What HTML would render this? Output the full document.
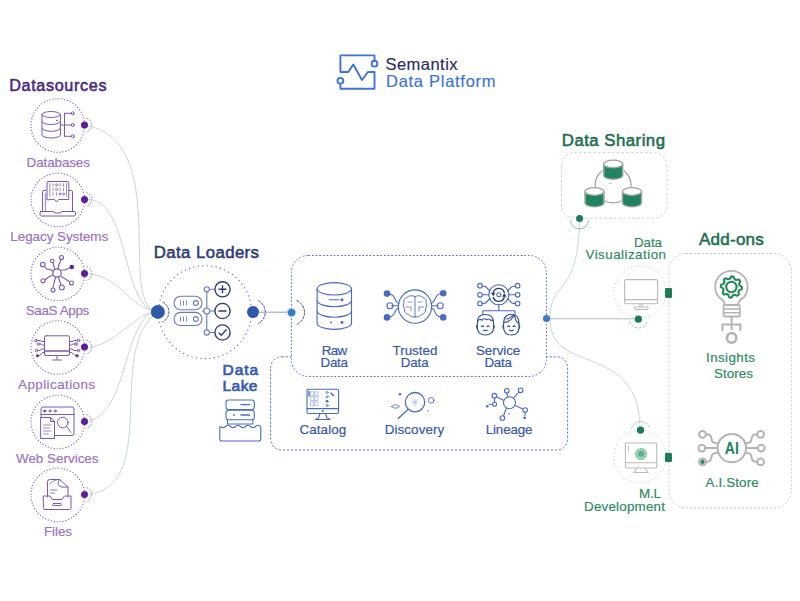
<!DOCTYPE html>
<html><head><meta charset="utf-8"><style>
html,body{margin:0;padding:0;background:#fff;width:800px;height:601px;overflow:hidden}
svg{display:block;font-family:"Liberation Sans",sans-serif}
</style></head><body>
<svg width="800" height="601" viewBox="0 0 800 601">
<g fill="none" stroke="#3f72d6" stroke-width="1.9" stroke-linejoin="round"><path d="M374.5 60 V55.4 H340.4 V72 H348.3 L353.3 64.5 L362 80 L367.9 72 H374.5 V88.7 H340.4 V84.5"/><circle cx="374.5" cy="63.7" r="2.9"/><circle cx="340.4" cy="80.8" r="2.9"/></g>
<text x="385.5" y="70.3" font-size="16.5" fill="#2b2d5e" font-weight="normal" stroke="#2b2d5e" stroke-width="0.18" textLength="72.0" lengthAdjust="spacing">Semantix</text>
<text x="386" y="86.8" font-size="16.5" fill="#3d74d2" font-weight="normal" stroke="#3d74d2" stroke-width="0.18" textLength="109.5" lengthAdjust="spacing">Data Platform</text>
<text x="9.2" y="91" font-size="16.2" fill="#4a2a7e" font-weight="normal" stroke="#4a2a7e" stroke-width="0.55" textLength="97.3" lengthAdjust="spacing">Datasources</text>
<g fill="none" stroke="#c2d0d6" stroke-width="0.9"><path d="M84.5 125 C174 139.3 115 305.9 158 312"/><path d="M84.5 199.5 C132.1 195.7 118.7 307.5 158 312"/><path d="M84 273.5 C120.5 274 126.9 307.2 158 312"/><path d="M83.5 347 C111 351.4 139.6 307.6 158 312"/><path d="M84.5 421.5 C129.6 419.2 122.4 312.6 158 312"/><path d="M84.2 494.5 C163.5 491.5 103.3 348.4 158 312"/></g>
<circle cx="57.8" cy="125.5" r="26.8" fill="none" stroke="#7a58a8" stroke-width="1.1" stroke-dasharray="1.1 1.9"/>
<path d="M86.3 118.1 A7.1 7.1 0 0 1 86.3 131.9" fill="none" stroke="#8890b0" stroke-width="0.9" stroke-dasharray="2 1"/>
<circle cx="84.5" cy="125" r="3.5" fill="#5a1fa0"/>
<text x="26.6" y="166.6" font-size="13.4" fill="#9a72c4" font-weight="normal" stroke="#9a72c4" stroke-width="0.18" textLength="63.3" lengthAdjust="spacing">Databases</text>
<circle cx="57.8" cy="200.0" r="26.8" fill="none" stroke="#7a58a8" stroke-width="1.1" stroke-dasharray="1.1 1.9"/>
<path d="M86.3 192.6 A7.1 7.1 0 0 1 86.3 206.4" fill="none" stroke="#8890b0" stroke-width="0.9" stroke-dasharray="2 1"/>
<circle cx="84.5" cy="199.5" r="3.5" fill="#5a1fa0"/>
<text x="10.3" y="241.1" font-size="13.4" fill="#9a72c4" font-weight="normal" stroke="#9a72c4" stroke-width="0.18" textLength="97.9" lengthAdjust="spacing">Legacy Systems</text>
<circle cx="57.8" cy="274.0" r="26.8" fill="none" stroke="#7a58a8" stroke-width="1.1" stroke-dasharray="1.1 1.9"/>
<path d="M86.3 266.6 A7.1 7.1 0 0 1 86.3 280.4" fill="none" stroke="#8890b0" stroke-width="0.9" stroke-dasharray="2 1"/>
<circle cx="84.5" cy="273.5" r="3.5" fill="#5a1fa0"/>
<text x="25.8" y="315.1" font-size="13.4" fill="#9a72c4" font-weight="normal" stroke="#9a72c4" stroke-width="0.18" textLength="63.4" lengthAdjust="spacing">SaaS Apps</text>
<circle cx="57.8" cy="347.5" r="26.8" fill="none" stroke="#7a58a8" stroke-width="1.1" stroke-dasharray="1.1 1.9"/>
<path d="M86.3 340.1 A7.1 7.1 0 0 1 86.3 353.9" fill="none" stroke="#8890b0" stroke-width="0.9" stroke-dasharray="2 1"/>
<circle cx="84.5" cy="347" r="3.5" fill="#5a1fa0"/>
<text x="18.1" y="388.6" font-size="13.4" fill="#9a72c4" font-weight="normal" stroke="#9a72c4" stroke-width="0.18" textLength="76.9" lengthAdjust="spacing">Applications</text>
<circle cx="57.8" cy="422.0" r="26.8" fill="none" stroke="#7a58a8" stroke-width="1.1" stroke-dasharray="1.1 1.9"/>
<path d="M86.3 414.6 A7.1 7.1 0 0 1 86.3 428.4" fill="none" stroke="#8890b0" stroke-width="0.9" stroke-dasharray="2 1"/>
<circle cx="84.5" cy="421.5" r="3.5" fill="#5a1fa0"/>
<text x="16" y="463.1" font-size="13.4" fill="#9a72c4" font-weight="normal" stroke="#9a72c4" stroke-width="0.18" textLength="82.5" lengthAdjust="spacing">Web Services</text>
<circle cx="57.8" cy="495.0" r="26.8" fill="none" stroke="#7a58a8" stroke-width="1.1" stroke-dasharray="1.1 1.9"/>
<path d="M86.3 487.6 A7.1 7.1 0 0 1 86.3 501.4" fill="none" stroke="#8890b0" stroke-width="0.9" stroke-dasharray="2 1"/>
<circle cx="84.5" cy="494.5" r="3.5" fill="#5a1fa0"/>
<text x="44" y="536.1" font-size="13.4" fill="#9a72c4" font-weight="normal" stroke="#9a72c4" stroke-width="0.18" textLength="28.0" lengthAdjust="spacing">Files</text>
<g fill="none" stroke="#7b58b0" stroke-width="1" stroke-linecap="round" stroke-linejoin="round"><ellipse cx="51.2" cy="114.5" rx="9.2" ry="3"/><path d="M42 114.5 V135 A9.2 3 0 0 0 60.4 135 V114.5"/><path d="M42 121.5 A9.2 3 0 0 0 60.4 121.5"/><path d="M42 128.3 A9.2 3 0 0 0 60.4 128.3"/><circle cx="57" cy="120.5" r="0.5"/><path d="M60.4 125 H64.5 M64.5 113.3 V136.3 M64.5 113.3 H71.3 M64.5 125 H71.3 M64.5 136.3 H71.3"/><circle cx="72.8" cy="113.3" r="1.5"/><circle cx="72.8" cy="125" r="1.5"/><circle cx="72.8" cy="136.3" r="1.5"/><path d="M42.5 211 V191.5 Q42.5 190.5 43.5 190.5 H46 M69 190.5 H71.5 Q72.5 190.5 72.5 191.5 V211"/><path d="M45.3 211 V193.5" stroke-width="0.8"/><path d="M40.5 211.5 H53 L55 213 H60 L62 211.5 H74.5 Q75.5 211.5 75.5 213 V214.5 Q75.5 216 74 216 H41.5 Q40 216 40 214.5 V213 Q40 211.5 41.5 211.5 Z"/><path d="M47 199.5 V182.5 Q47 181.5 48 181.5 H67.8 Q68.8 181.5 68.8 182.5 V199.5 H58.5 L56.5 202 L54.5 199.5 Z"/><g stroke-width="0.7"><path d="M49.8 183.5 V196 M66.5 183.5 V196"/><path d="M53 183.7 V186.3"/><ellipse cx="56.5" cy="185" rx="0.9" ry="1.2"/><path d="M60 183.7 V186.3"/><path d="M63.5 183.7 V186.3"/><path d="M53 188.2 V190.8"/><ellipse cx="56.5" cy="189.5" rx="0.9" ry="1.2"/><path d="M60 188.2 V190.8"/><path d="M63.5 188.2 V190.8"/><path d="M53 192.7 V195.3"/><path d="M56.5 192.7 V195.3"/><ellipse cx="60" cy="194" rx="0.9" ry="1.2"/><ellipse cx="63.5" cy="194" rx="0.9" ry="1.2"/></g><circle cx="57" cy="273" r="4.2" stroke-width="1.2"/><path d="M52.5 271.0 L49.5 269.2 L47.0 269.2 L44.5 266.5 M54.5 269.2 L54.0 266.5 L53.0 263.0 M58.0 268.5 L59.0 264.5 L61.0 260.0 M61.5 270.0 L65.5 269.8 L69.5 268.0 M61.0 276.5 L65.5 279.0 L69.0 281.5 M58.5 277.5 L60.0 282.0 L61.0 285.0 M55.5 277.5 L54.0 283.0 L53.0 287.5 M52.5 275.0 L48.0 277.5 L45.0 279.8" stroke-width="1.1"/><circle cx="42.8" cy="264.5" r="2.3" stroke-width="1.1"/><circle cx="52.3" cy="261" r="1.8" stroke-width="1.1"/><circle cx="61.5" cy="257.5" r="2" stroke-width="1.1"/><circle cx="71.8" cy="267" r="2.2" stroke-width="1.1" fill="#5a1fa0" stroke="none"/><circle cx="71.5" cy="283" r="2" stroke-width="1.1"/><circle cx="61.8" cy="287.5" r="2.5" stroke-width="1.1"/><circle cx="53" cy="290" r="2" stroke-width="1.1"/><circle cx="43" cy="280.8" r="2" stroke-width="1.1"/><rect x="44.5" y="335.8" width="25" height="19.7" rx="1.5"/><path d="M44.5 351 H69.5" stroke-width="1.3"/><path d="M57 355.5 V359.5 M52.5 360 H61.5"/><path d="M44.5 341.5 H42 L40 340.5 H37.3 M44.5 345 H42.5 L41 344 H39.8 M44.5 349 H42 L40 350.5 H37.8 M44.5 352.5 H42.5 L39.5 355.8"/><path d="M69.5 341.5 H72 L74 340.5 H77.2 M69.5 345 H71.5 L73 344 H74.7 M69.5 349 H72 L74 350.5 H77.2 M69.5 352.5 H71.5 L75.5 355.8"/><circle cx="36" cy="340.5" r="1.3"/><circle cx="38.5" cy="344" r="1.3"/><circle cx="36.5" cy="350.5" r="1.3"/><circle cx="37.5" cy="355.8" r="1.3" fill="#5a1fa0"/><circle cx="78.5" cy="340.5" r="1.3"/><circle cx="76" cy="344" r="1.3"/><circle cx="78.5" cy="350.5" r="1.3"/><circle cx="77" cy="355.8" r="1.3" fill="#5a1fa0"/><path d="M41 417 V409 Q41 407 43 407 H72 Q74 407 74 409 V433.5 Q74 435.5 72 435.5 H54.5"/><path d="M41 414.5 H74"/><circle cx="44.8" cy="411" r="1.1" fill="#5a1fa0"/><circle cx="50" cy="411" r="1.1"/><circle cx="55.2" cy="411" r="1.1"/><path d="M41 417.5 H50.5 L54.5 421.5 V438.5 H41 Z"/><path d="M50.5 417.5 V421.5 H54.5"/><path d="M43.5 425 H51 M43.5 428 H50 M43.5 431 H51 M43.5 434 H48" stroke-width="0.7"/><circle cx="62.8" cy="422.5" r="5.3"/><path d="M66.5 426.3 L71 432.5"/><path d="M47.5 497 V482 Q47.5 479.5 50 479.5 H59.5 L68 487 V497"/><path d="M59.5 479.5 Q57 484 59.5 486 Q62 488 68 487"/><path d="M50 484 Q54 479 60 479.5" stroke-width="0.8"/><path d="M50.5 490 H57 M50.5 493 H54.5" stroke-width="0.8"/><path d="M43.5 496 H50 L52.5 499.5 H62 L64.5 496 H71 V508 Q71 509.5 69.5 509.5 H45 Q43.5 509.5 43.5 508 Z"/><rect x="52.5" y="503.5" width="9" height="2" rx="1"/></g>
<text x="153.8" y="258.4" font-size="16.8" fill="#2d3d74" font-weight="normal" stroke="#2d3d74" stroke-width="0.55" textLength="105.2" lengthAdjust="spacing">Data Loaders</text>
<circle cx="205" cy="312.2" r="46.5" fill="none" stroke="#6268a8" stroke-width="1.2" stroke-dasharray="1.1 3.4"/>
<path d="M162.5 302 A11 11 0 0 1 162.5 322" fill="none" stroke="#4a5488" stroke-width="1" stroke-dasharray="3 0.8"/>
<path d="M258 300.6 A12.7 12.7 0 0 1 258 323.6" fill="none" stroke="#4a5488" stroke-width="1" stroke-dasharray="3 0.8"/>
<circle cx="157.9" cy="311.9" r="7" fill="#2f58aa"/>
<circle cx="253" cy="312" r="6" fill="#2f58aa"/>
<path d="M259 312.2 H291" stroke="#6f86c8" stroke-width="0.8"/>
<g fill="none" stroke="#6a78c0" stroke-width="1.1"><rect x="174" y="296.3" width="28" height="13.5" rx="6.7"/><rect x="174" y="312.4" width="28" height="13.1" rx="6.5"/><circle cx="195.8" cy="303" r="2.4"/><circle cx="195.8" cy="319" r="2.4"/><path d="M180.5 300.5 V305.5 M183.5 300.5 V305.5 M186.5 300.5 V305.5 M180.5 316.5 V321.5 M183.5 316.5 V321.5 M186.5 316.5 V321.5" stroke-width="0.9"/><path d="M202 311 H204 M206.8 292 V308 M206.8 314 V330 M209.4 289.3 H214.6 M209.8 311 H214.6 M209.4 332.5 H214.6"/><circle cx="206.8" cy="289.3" r="2.6"/><circle cx="206.8" cy="311" r="3"/><circle cx="206.8" cy="332.5" r="2.6"/></g><g fill="none" stroke="#2d3d74" stroke-width="1.4"><circle cx="222.5" cy="289.3" r="7.6"/><circle cx="222.5" cy="311" r="7.6"/><circle cx="222.5" cy="332.5" r="7.6"/><path d="M218.5 289.3 H226.5 M222.5 285.3 V293.3 M218.5 311 H226.5 M218.8 332.7 L221.3 335.2 L226.5 329.5"/></g>
<rect x="270.6" y="356.8" width="297" height="93.2" rx="11" fill="none" stroke="#5878bc" stroke-width="1" stroke-dasharray="2.2 1.8"/>
<rect x="291.4" y="255.5" width="255" height="121" rx="17" fill="#fff" stroke="#5878bc" stroke-width="1" stroke-dasharray="1.8 1.8"/>
<path d="M296.5 300.5 A13 13 0 0 1 296.5 324.5" fill="none" stroke="#4a5488" stroke-width="1" stroke-dasharray="3 0.8"/>
<circle cx="291.5" cy="312.4" r="4.6" fill="#a8c4ec"/><circle cx="291.5" cy="312.4" r="3.5" fill="#2f7bd0"/>
<text x="222.6" y="374.6" font-size="15.5" fill="#3458b0" font-weight="normal" stroke="#3458b0" stroke-width="0.7" textLength="35.6" lengthAdjust="spacing">Data</text>
<text x="222.6" y="390.5" font-size="15.5" fill="#3458b0" font-weight="normal" stroke="#3458b0" stroke-width="0.7" textLength="34.8" lengthAdjust="spacing">Lake</text>
<text x="321.8" y="354.7" font-size="13.4" fill="#3558a8" font-weight="normal" stroke="#3558a8" stroke-width="0.18" textLength="25.4" lengthAdjust="spacing">Raw</text>
<text x="320.6" y="367.3" font-size="13.4" fill="#3558a8" font-weight="normal" stroke="#3558a8" stroke-width="0.18" textLength="27.4" lengthAdjust="spacing">Data</text>
<text x="392.5" y="354.6" font-size="13.4" fill="#3558a8" font-weight="normal" stroke="#3558a8" stroke-width="0.18" textLength="44.9" lengthAdjust="spacing">Trusted</text>
<text x="400.8" y="367.3" font-size="13.4" fill="#3558a8" font-weight="normal" stroke="#3558a8" stroke-width="0.18" textLength="27.8" lengthAdjust="spacing">Data</text>
<text x="476" y="354.7" font-size="13.4" fill="#3558a8" font-weight="normal" stroke="#3558a8" stroke-width="0.18" textLength="44.3" lengthAdjust="spacing">Service</text>
<text x="484.5" y="367.3" font-size="13.4" fill="#3558a8" font-weight="normal" stroke="#3558a8" stroke-width="0.18" textLength="27.4" lengthAdjust="spacing">Data</text>
<text x="299.5" y="433.5" font-size="13.4" fill="#3558a8" font-weight="normal" stroke="#3558a8" stroke-width="0.18" textLength="46.7" lengthAdjust="spacing">Catalog</text>
<text x="384.7" y="434" font-size="13.4" fill="#3558a8" font-weight="normal" stroke="#3558a8" stroke-width="0.18" textLength="59.5" lengthAdjust="spacing">Discovery</text>
<text x="485.7" y="434" font-size="13.4" fill="#3558a8" font-weight="normal" stroke="#3558a8" stroke-width="0.18" textLength="46.8" lengthAdjust="spacing">Lineage</text>
<g fill="none" stroke="#4a6cc0" stroke-width="1.1" stroke-linecap="round" stroke-linejoin="round"><ellipse cx="334.3" cy="288.8" rx="17.2" ry="6.2"/><path d="M317.1 288.8 V323.2 A17.2 6.2 0 0 0 351.5 323.2 V288.8"/><path d="M317.1 300.5 A17.2 6.2 0 0 0 351.5 300.5 M317.1 311 A17.2 6.2 0 0 0 351.5 311"/><path d="M329.3 299.7 H339"/><circle cx="342" cy="299.7" r="1" fill="#4a6cc0"/><circle cx="342" cy="322.2" r="1" fill="#4a6cc0"/><circle cx="331" cy="322.4" r="0.4" fill="#4a6cc0"/><circle cx="415" cy="306.6" r="16.7"/><path d="M391.5 305.8 H398.6 M438 305.8 H431.4"/><path d="M387 293.6 Q392 293.6 394 297 L396 301 Q397 303 399 303.5 M387 317.4 Q392 317.4 394 314 L396 310 Q397 308.5 399 308"/><path d="M443.2 293.3 Q438 293.3 436 297 L434 301 Q433 303 431 303.5 M443.2 317.4 Q438 317.4 436 314 L434 310 Q433 308.5 431 308"/><circle cx="390" cy="305.8" r="3"/><circle cx="440.2" cy="305.8" r="3"/><path d="M415 296.5 V317 M415 296.5 Q410 294.5 407 297.5 Q403 298.5 404 302.5 Q402 306 404.5 309 Q404 313.5 408.5 314.5 Q411 318 415 317 M415 296.5 Q420 294.5 423 297.5 Q427 298.5 426 302.5 Q428 306 425.5 309 Q426 313.5 421.5 314.5 Q419 318 415 317" stroke-width="0.9"/><path d="M408 302 H412 M406 307 H411 V311 M418 302 H422 M419 307 H424 M419 307 V311" stroke-width="0.7"/></g><g fill="#4a6cc0"><circle cx="387" cy="293.6" r="3.3"/><circle cx="387" cy="317.4" r="3.3"/><circle cx="443.2" cy="293.3" r="3.3"/><circle cx="443.2" cy="317.4" r="3.3"/></g><g fill="none" stroke="#4a6cc0" stroke-width="1.1" stroke-linecap="round" stroke-linejoin="round"><circle cx="498.8" cy="294.8" r="10"/><circle cx="498.8" cy="294.8" r="2"/><path d="M504.3 292.5 A5.8 5.8 0 0 0 493.2 292.5 M493.2 297.3 A5.8 5.8 0 0 0 504.3 297.3" stroke="#2d3d74" stroke-width="1.3"/><path d="M490.9 292.8 H495.5 L493.2 296.3 Z M502 296.8 H506.6 L504.3 293.3 Z" fill="#2d3d74" stroke="none"/><path d="M482.3 294.8 H489.2 M508.4 294.8 H515.3"/><path d="M482 286 Q486 286 487 288 L490 291 M482 303.5 Q486 303.5 487 301.5 L490 298.5 M515.5 286 Q511.5 286 510.5 288 L507.5 291 M515.5 303.5 Q511.5 303.5 510.5 301.5 L507.5 298.5"/><circle cx="480" cy="285.7" r="2.3"/><circle cx="480" cy="294.8" r="2.3"/><circle cx="480" cy="303.5" r="2.3"/><circle cx="517.6" cy="285.7" r="2.3"/><circle cx="517.6" cy="294.8" r="2.3"/><circle cx="517.6" cy="303.5" r="2.3"/><path d="M498.8 304.4 V310.8 M482.8 314.5 V310.8 H515 V314.5"/><g stroke="#34508f" stroke-width="1.1"><path d="M477.3 323 Q477 314.5 485.3 314.5 Q493.6 314.5 493.6 323 V327 Q493.6 335 485.3 335 Q477.3 335 477.3 327 Z"/><path d="M477.5 321.5 Q479.5 318 482 320.3 Q484 317.5 486.8 319.8 Q489.3 318 490.8 320.5 Q492.3 319.3 493.5 321.5"/><path d="M477 325 Q475.8 326.5 477 328.5 M493.8 325 Q495 326.5 493.8 328.5"/><path d="M481.5 326.6 Q482.6 325.2 483.7 326.6 M487 326.6 Q488.1 325.2 489.2 326.6 M483.3 330 Q485.3 331.6 487.3 330"/><path d="M503.6 324 Q503.6 314.3 511.3 314.3 Q519 314.3 519 324 V327 Q519 335 511.3 335 Q503.6 335 503.6 327 Z"/><path d="M504 322.5 Q510.5 322 514.5 315.3 Q515.5 321.5 518.8 323.5 M506.5 319 Q510.5 318.5 513 315.2"/><path d="M503.4 325 Q502.3 326.5 503.4 328.5 M519.2 325 Q520.3 326.5 519.2 328.5"/><path d="M507.6 326.6 Q508.7 325.2 509.8 326.6 M513 326.6 Q514.1 325.2 515.2 326.6 M509.4 330 Q511.3 331.6 513.3 330"/></g><rect x="307" y="389.2" width="31.6" height="24.3" rx="1.5"/><path d="M307 408.6 H338.6"/><path d="M320 413.5 L318.5 418 Q316 418.5 315.5 419.5 H330 Q329.5 418.5 327 418 L325.5 413.5"/><path d="M309 391.5 V396" stroke-width="1.4"/><path d="M311 391.8 H314 V395.5 H311 Z M315 391.8 H318 V395.5 H315 Z M311 396.8 H314 V400.5 H311 Z M315 396.8 H318 V400.5 H315 Z M311 401.8 H314 V405.5 H311 Z M315 401.8 H318 V405.5 H315 Z" stroke-width="0.6" stroke="#8aa0d8"/><g stroke-width="0.7"><circle cx="327" cy="392.5" r="1.1"/><circle cx="327" cy="396.8" r="1.1"/><circle cx="327" cy="401.2" r="1.1" fill="#4a6cc0"/><circle cx="327" cy="405.5" r="1.1"/></g><path d="M331 393 L333.5 395.5" stroke-width="1.4"/><circle cx="322.8" cy="411" r="0.5"/><circle cx="415" cy="402.2" r="9.7" stroke-width="1.3"/><path d="M408 409.5 L398.2 418.4" stroke-width="1.3"/><circle cx="431.2" cy="400.3" r="2.8" stroke-width="0.9"/><path d="M391.5 406.5 Q395.5 403 399.5 406.5 Q395.5 410 391.5 406.5 Z" stroke-width="0.9"/><path d="M415 398.5 V406 M411.5 402.2 H418.5 M412.5 399.5 L417.5 405 M417.5 399.5 L412.5 405" stroke-width="0.6" stroke="#9ab0e0"/></g><g fill="#4a6cc0"><circle cx="400" cy="394.3" r="1.3"/><circle cx="428" cy="410.8" r="0.8"/><circle cx="487.3" cy="406.3" r="1.3"/><circle cx="524.6" cy="417.8" r="1.4"/><circle cx="509" cy="413.8" r="0.8"/></g><g fill="none" stroke="#4a6cc0" stroke-width="1.1"><circle cx="509.5" cy="402.7" r="6"/><path d="M507.5 397 L507 393.1 M513.5 398.2 L519 392 M503.8 400.6 L496.5 396.8 M515 405.5 L523 409 M506.5 408 L503.5 415.8 M494.5 398 V402 M492.3 404.3 H488.5 M525 412.3 V416"/><circle cx="506.8" cy="390.8" r="2.3"/><circle cx="520.6" cy="390.3" r="2.3"/><circle cx="494.3" cy="395.7" r="2.3"/><circle cx="494.6" cy="404.3" r="2"/><circle cx="525.1" cy="410" r="2.3"/><circle cx="502.4" cy="418" r="2.3"/></g><g fill="none" stroke="#4a6cc0" stroke-width="1.1"><rect x="226" y="400" width="28.3" height="9.5" rx="2.5"/><rect x="226" y="410.3" width="28.3" height="9.5" rx="2.5"/><path d="M227.5 419.8 V424 H252.8 V419.8"/><path d="M240.5 404.7 H250 M240.5 415 H250" stroke-width="1.3"/><circle cx="234" cy="415" r="0.4"/><path d="M220.5 426.5 Q223 429 225.5 426.5 Q228 424 230.5 426.5 Q233 429 235.5 426.5 Q238 424 240.5 426.5 Q243 429 245.5 426.5 Q248 424 250.5 426.5 Q253 429 255.5 426.5 Q258 424 260.5 426.5"/><path d="M219.8 426.5 V439 Q219.8 441 221.8 441 H258.8 Q260.8 441 260.8 439 V426.5"/></g>
<text x="561.8" y="146" font-size="16.8" fill="#1e6e4f" font-weight="normal" stroke="#1e6e4f" stroke-width="0.55" textLength="103.2" lengthAdjust="spacing">Data Sharing</text>
<text x="699" y="244.5" font-size="17" fill="#1e6e4f" font-weight="normal" stroke="#1e6e4f" stroke-width="0.55" textLength="64.8" lengthAdjust="spacing">Add-ons</text>
<g fill="none" stroke="#c2d2d6" stroke-width="0.9"><path d="M550 319 C550 278.3 579.4 297.5 579.4 218.2"/><path d="M550 319 C550 376.6 640 340.3 640 430"/></g>
<path d="M546.5 318.8 H638.4" stroke="#a6b6cc" stroke-width="0.9"/>
<circle cx="546.5" cy="318.5" r="3.6" fill="#3a7bd0"/>
<rect x="561.5" y="152.7" width="105.5" height="65.5" rx="13" fill="none" stroke="#c3d3cf" stroke-width="1" stroke-dasharray="2.5 2.2"/>
<path d="M570.5 220 A9 9 0 0 0 588.5 220" fill="none" stroke="#7fb8a0" stroke-width="0.9"/>
<circle cx="579.6" cy="218.4" r="3.5" fill="#1f7a56"/>
<g stroke="#a0a0a0" stroke-width="1.3" fill="none"><circle cx="613.1" cy="185" r="17.9"/></g><circle cx="610" cy="183.5" r="0.6" fill="#20845e"/><rect x="602.6" y="159.2" width="21.2" height="21.1" fill="#fff" stroke="none"/><path d="M603.6 164 V175.5 A9.6 3.8 0 0 0 622.8000000000001 175.5 V164" fill="#fff" stroke="#a0a0a0" stroke-width="1.3"/><path d="M604.3000000000001 165.5 A9.6 3.8 0 0 0 622.1 165.5 V175.5 A8.9 3.3 0 0 1 604.3000000000001 175.5 Z" fill="#20845e"/><ellipse cx="613.2" cy="164" rx="9.6" ry="3.8" fill="#fff" stroke="#a0a0a0" stroke-width="1.3"/><rect x="583.9" y="186.7" width="21.2" height="21.1" fill="#fff" stroke="none"/><path d="M584.9 191.5 V203.0 A9.6 3.8 0 0 0 604.1 203.0 V191.5" fill="#fff" stroke="#a0a0a0" stroke-width="1.3"/><path d="M585.6 193.0 A9.6 3.8 0 0 0 603.4 193.0 V203.0 A8.9 3.3 0 0 1 585.6 203.0 Z" fill="#20845e"/><ellipse cx="594.5" cy="191.5" rx="9.6" ry="3.8" fill="#fff" stroke="#a0a0a0" stroke-width="1.3"/><rect x="621.4" y="186.7" width="21.2" height="21.1" fill="#fff" stroke="none"/><path d="M622.4 191.5 V203.0 A9.6 3.8 0 0 0 641.6 203.0 V191.5" fill="#fff" stroke="#a0a0a0" stroke-width="1.3"/><path d="M623.1 193.0 A9.6 3.8 0 0 0 640.9 193.0 V203.0 A8.9 3.3 0 0 1 623.1 203.0 Z" fill="#20845e"/><ellipse cx="632" cy="191.5" rx="9.6" ry="3.8" fill="#fff" stroke="#a0a0a0" stroke-width="1.3"/>
<text x="634" y="247" font-size="13.4" fill="#2f8a63" font-weight="normal" stroke="#2f8a63" stroke-width="0.18" textLength="28.0" lengthAdjust="spacing">Data</text>
<text x="585.5" y="259" font-size="13.4" fill="#2f8a63" font-weight="normal" stroke="#2f8a63" stroke-width="0.18" textLength="80.5" lengthAdjust="spacing">Visualization</text>
<circle cx="640" cy="292" r="26.2" fill="none" stroke="#b8c4bc" stroke-width="1" stroke-dasharray="1.1 2.8"/>
<path d="M629.5 321 A9.3 9.3 0 0 0 647.5 321" fill="none" stroke="#8cc8b0" stroke-width="0.9" stroke-dasharray="3 1"/>
<circle cx="638.4" cy="319.2" r="3.6" fill="#1f7a56"/>
<rect x="665" y="288" width="7" height="9.8" rx="1.5" fill="#1f7a56"/>
<g fill="none" stroke="#bababa" stroke-width="1.1"><rect x="624.6" y="279.6" width="33" height="24.1" rx="1.5"/><path d="M624.6 299.6 H657.6 M640 303.7 V307 M642.3 303.7 V307"/><rect x="634.7" y="307" width="13.3" height="2.5" rx="0.8"/></g>
<rect x="669" y="253.5" width="122.3" height="254.3" rx="17" fill="none" stroke="#c4c8c6" stroke-width="1" stroke-dasharray="2 2"/>
<g fill="none" stroke="#b4b4b4" stroke-width="2"><path d="M725 305 Q724.5 300.5 719 297.4 A16.2 16.2 0 1 1 743.8 297.4 Q738.3 300.5 737.8 305" stroke-width="1.8"/><rect x="723.5" y="305" width="16.3" height="11.5" rx="1.2" stroke-width="1.8"/><path d="M723.5 309 H739.8 M723.5 312.8 H739.8" stroke-width="1.6"/><path d="M731.6 317 V330 M722.5 331 V324.4 H740.4 V331"/><circle cx="731.6" cy="337.9" r="4.7" stroke-width="2.7"/></g><path d="M742.0 287.0 L741.8 289.1 L739.2 290.2 L738.4 291.7 L738.9 294.5 L737.3 295.8 L734.6 294.8 L733.0 295.2 L731.4 297.6 L729.3 297.4 L728.2 294.8 L726.7 294.0 L723.9 294.5 L722.6 292.9 L723.6 290.2 L723.2 288.6 L720.8 287.0 L721.0 284.9 L723.6 283.8 L724.4 282.3 L723.9 279.5 L725.5 278.2 L728.2 279.2 L729.8 278.8 L731.4 276.4 L733.5 276.6 L734.6 279.2 L736.1 280.0 L738.9 279.5 L740.2 281.1 L739.2 283.8 L739.6 285.4Z" fill="none" stroke="#238a5c" stroke-width="2.1" stroke-linejoin="round"/><circle cx="731.4" cy="287" r="5.2" fill="none" stroke="#238a5c" stroke-width="2.1"/>
<text x="706" y="362" font-size="13.4" fill="#2f8a63" font-weight="normal" stroke="#2f8a63" stroke-width="0.18" textLength="49.0" lengthAdjust="spacing">Insights</text>
<text x="714" y="377.6" font-size="13.4" fill="#2f8a63" font-weight="normal" stroke="#2f8a63" stroke-width="0.18" textLength="39.0" lengthAdjust="spacing">Stores</text>
<circle cx="640" cy="456.6" r="26.3" fill="none" stroke="#b8c4bc" stroke-width="1" stroke-dasharray="1.1 2.8"/>
<path d="M631.5 428.5 A9.3 9.3 0 0 1 649.5 428.5" fill="none" stroke="#8cc8b0" stroke-width="0.9" stroke-dasharray="3 1"/>
<circle cx="640.5" cy="430.1" r="3.7" fill="#1f7a56"/>
<g fill="none" stroke="#bababa" stroke-width="1.1"><rect x="625.4" y="443" width="31.4" height="25" rx="1.5"/><path d="M625.4 462.7 H656.8 M637 468 L634 472.5 H648 L645 468"/><path d="M628.5 446 V452" stroke-width="0.8"/></g>
<circle cx="641.1" cy="454" r="5.5" fill="#9fd3bb" stroke="#2f9a6e" stroke-width="1" stroke-dasharray="1 1"/>
<circle cx="641.1" cy="454" r="3" fill="#2f9a6e" opacity="0.6"/>
<text x="639" y="497.6" font-size="13.4" fill="#2f8a63" font-weight="normal" stroke="#2f8a63" stroke-width="0.18" textLength="22.0" lengthAdjust="spacing">M.L</text>
<text x="584" y="510.6" font-size="13.4" fill="#2f8a63" font-weight="normal" stroke="#2f8a63" stroke-width="0.18" textLength="81.0" lengthAdjust="spacing">Development</text>
<g fill="none" stroke="#b4b4b4" stroke-width="2"><circle cx="731.8" cy="448.1" r="14.2"/><path d="M705.5 448.1 H717.6 M758.2 448.1 H746"/><path d="M706 434.4 Q710 434 711 437 L712 441 Q713 443 718.5 443.5 M706 461.9 Q710 462 711 459 L712 455 Q713 453 718.5 452.5"/><path d="M757.2 434.4 Q753 434 752 437 L751 441 Q750 443 745 443.5 M757.2 461.9 Q753 462 752 459 L751 455 Q750 453 745 452.5"/><circle cx="702.5" cy="434.4" r="3.4"/><circle cx="701.9" cy="448.1" r="3.4"/><circle cx="702.5" cy="461.9" r="3.4"/><circle cx="760.6" cy="434.4" r="3.4"/><circle cx="761.2" cy="448.1" r="3.4"/><circle cx="760.6" cy="461.9" r="3.4"/></g><circle cx="702.5" cy="461.9" r="2.1" fill="#2a8a5e"/>
<text x="724.8" y="453.8" font-size="17" fill="#20845e" font-weight="bold" textLength="14" lengthAdjust="spacingAndGlyphs">AI</text>
<text x="705.6" y="487" font-size="13.4" fill="#2f8a63" font-weight="normal" stroke="#2f8a63" stroke-width="0.18" textLength="53.1" lengthAdjust="spacing">A.I.Store</text>
<rect x="665" y="288" width="7" height="9.8" rx="1.5" fill="#1f7a56"/>
<rect x="665" y="452.8" width="7" height="9.3" rx="1.5" fill="#1f7a56"/>
</svg></body></html>
